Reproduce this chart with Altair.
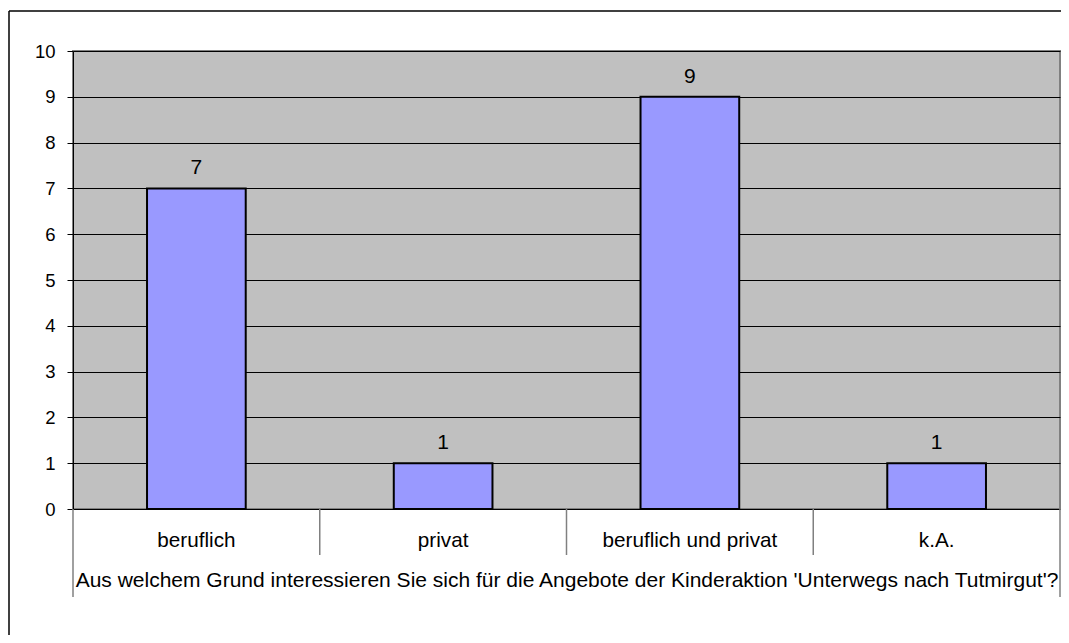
import altair as alt
import pandas as pd

categories = ["beruflich", "privat", "beruflich und privat", "k.A."]
counts = [7, 1, 9, 1]
boundaries = [0, 1, 2, 3, 4]
outer_flags = [True, False, False, False, True]
y_ticks = list(range(0, 11))

FONT = "Liberation Sans"
TITLE = "Aus welchem Grund interessieren Sie sich für die Angebote der Kinderaktion 'Unterwegs nach Tutmirgut'?"

W, H = 987, 458

df = pd.DataFrame({"cat": categories, "n": counts})
bdf = pd.DataFrame({"b": boundaries, "outer": outer_flags})
one = pd.DataFrame({"a": [0]})

xscale = alt.Scale(domain=categories, paddingInner=0.6, paddingOuter=0.3)
yscale = alt.Scale(domain=[0, 10], nice=False)

x_enc = alt.X(
    "cat:N", scale=xscale, sort=categories,
    axis=alt.Axis(
        title=TITLE, labelAngle=0, ticks=False, domain=False, grid=False,
        labelFontSize=20.7, labelPadding=21, labelFont=FONT, labelColor="black",
        titleFontSize=21, titleFont=FONT, titleFontWeight="normal",
        titleColor="black", titlePadding=20,
    ),
)
y_enc = alt.Y(
    "n:Q", scale=yscale,
    axis=alt.Axis(
        values=y_ticks, title=None, grid=True, gridColor="black", gridWidth=1,
        gridOpacity=1, domain=True, domainColor="black", domainWidth=1,
        ticks=True, tickSize=6, tickColor="black", labelFontSize=18.5,
        labelFont=FONT, labelColor="black", labelPadding=12,
    ),
)

bars = alt.Chart(df).mark_bar(color="#9999FF", stroke="black", strokeWidth=2).encode(
    x=x_enc, y=y_enc
)

labels = alt.Chart(df).mark_text(
    font=FONT, fontSize=21, color="black", dy=-14, baseline="alphabetic"
).encode(
    x=alt.X("cat:N", scale=xscale, sort=categories, axis=None),
    y=alt.Y("n:Q", scale=yscale),
    text=alt.Text("n:Q"),
)

sep_scale = alt.Scale(domain=[0, 4], nice=False, zero=False)
seps_inner = alt.Chart(bdf).transform_filter("!datum.outer").mark_rule(
    color="#808080", strokeWidth=1.5
).encode(
    x=alt.X("b:Q", scale=sep_scale, axis=None),
    y=alt.value(H), y2=alt.value(H + 46),
)
seps_outer = alt.Chart(bdf).transform_filter("datum.outer").mark_rule(
    color="#808080", strokeWidth=1.5
).encode(
    x=alt.X("b:Q", scale=sep_scale, axis=None),
    y=alt.value(H), y2=alt.value(H + 88),
)

border_left = alt.Chart(one).mark_rule(color="black", strokeWidth=1.5).encode(
    x=alt.value(-64), y=alt.value(-40), y2=alt.value(700)
)
border_top = alt.Chart(one).mark_rule(color="black", strokeWidth=1.5).encode(
    x=alt.value(-64), x2=alt.value(W + 1), y=alt.value(-40)
)

chart = alt.layer(border_left, border_top, bars, labels, seps_inner, seps_outer).resolve_scale(
    x="independent"
).properties(
    width=W, height=H,
    autosize=alt.AutoSizeParams(type="none"),
    padding={"left": 65, "top": 43, "right": 1, "bottom": 126},
    background="white",
).configure_view(
    fill="#C0C0C0", stroke="#808080", strokeWidth=2
)

chart.save("out.html", embed_options={"renderer": "svg", "actions": False})
